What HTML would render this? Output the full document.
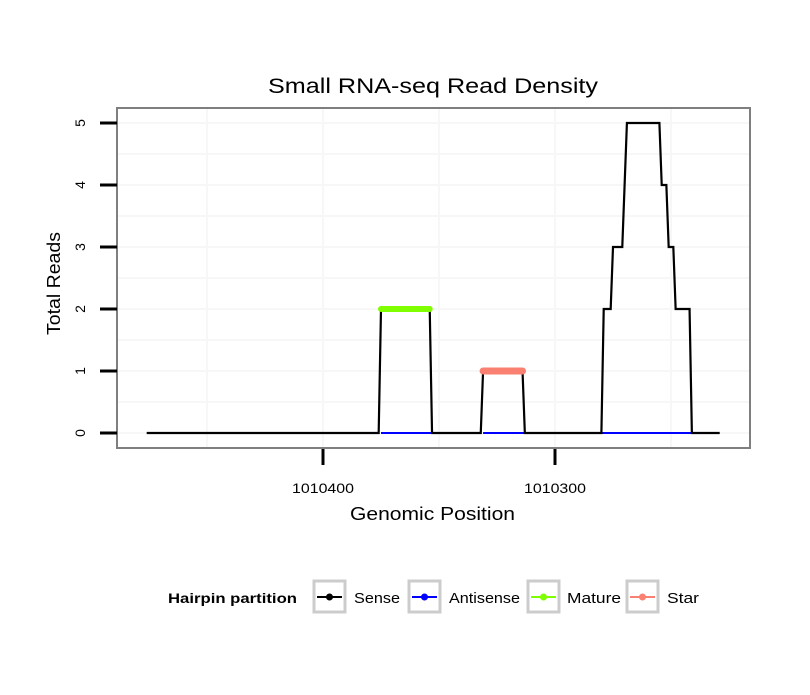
<!DOCTYPE html>
<html><head><meta charset="utf-8"><style>
body{margin:0;background:#fff;}
text{font-family:"Liberation Sans",Arial,sans-serif;}
</style></head><body>
<svg id="chart" width="810" height="690" xmlns="http://www.w3.org/2000/svg">
<rect width="810" height="690" fill="#fff"/>
<text x="268" y="93" font-size="21" textLength="330" lengthAdjust="spacingAndGlyphs">Small RNA-seq Read Density</text>
<g id="grid"></g>
<g id="series"></g>
<rect x="117" y="108" width="633" height="340" fill="none" stroke="#7f7f7f" stroke-width="2"/>
<g id="axes"></g>
<text x="350" y="520" font-size="18" textLength="165" lengthAdjust="spacingAndGlyphs">Genomic Position</text>
<text transform="translate(60,335) rotate(-90)" font-size="18" textLength="103" lengthAdjust="spacingAndGlyphs">Total Reads</text>
<g>
<text x="168" y="603" font-size="14" font-weight="bold" textLength="129" lengthAdjust="spacingAndGlyphs">Hairpin partition</text>
<g><rect x="314" y="581" width="31" height="31" fill="#fff" stroke="#cccccc" stroke-width="3"/><line x1="317" y1="597" x2="342" y2="597" stroke="#000" stroke-width="2"/><circle cx="329.5" cy="597" r="3.5" fill="#000"/><text x="354" y="603" font-size="15" textLength="46" lengthAdjust="spacingAndGlyphs">Sense</text></g>
<g><rect x="409" y="581" width="31" height="31" fill="#fff" stroke="#cccccc" stroke-width="3"/><line x1="412" y1="597" x2="437" y2="597" stroke="#0000ff" stroke-width="2"/><circle cx="424.5" cy="597" r="3.5" fill="#0000ff"/><text x="434" y="603" font-size="15" dx="15" textLength="71" lengthAdjust="spacingAndGlyphs">Antisense</text></g>
<g><rect x="528" y="581" width="31" height="31" fill="#fff" stroke="#cccccc" stroke-width="3"/><line x1="531" y1="597" x2="556" y2="597" stroke="#7fff00" stroke-width="2"/><circle cx="543.5" cy="597" r="3.5" fill="#7fff00"/><text x="567" y="603" font-size="15" textLength="54" lengthAdjust="spacingAndGlyphs">Mature</text></g>
<g><rect x="627" y="581" width="31" height="31" fill="#fff" stroke="#cccccc" stroke-width="3"/><line x1="630" y1="597" x2="655" y2="597" stroke="#fa8072" stroke-width="2"/><circle cx="642.5" cy="597" r="3.5" fill="#fa8072"/><text x="667" y="603" font-size="15" textLength="32" lengthAdjust="spacingAndGlyphs">Star</text></g>
</g>
</svg>
<script>
const sensePos = [1010476,1010376,1010375,1010354,1010353,1010332,1010331,1010314,1010313,1010280,1010279,1010276,1010275,1010271,1010269,1010255,1010254,1010252,1010251,1010249,1010248,1010242,1010241,1010229];
const senseVal = [0,0,2,2,0,0,1,1,0,0,2,2,3,3,5,5,4,4,3,3,2,2,0,0];
const matureRange = [1010375,1010354];
const matureVal = 2;
const starRange = [1010331,1010314];
const starVal = 1;
const antisenseRanges = [[1010375,1010353],[1010331,1010313],[1010280,1010241]];
const yTicks = [0,1,2,3,4,5];
const xTicks = [1010400,1010300];
const xGrid = [1010450,1010400,1010350,1010300,1010250];

const NS='http://www.w3.org/2000/svg';
function X(p){return 323+(1010400-p)*2.32;}
function Y(v){return 433-v*62;}
function mk(tag,attrs,parent){const e=document.createElementNS(NS,tag);for(const k in attrs)e.setAttribute(k,attrs[k]);parent.appendChild(e);return e;}
const grid=document.getElementById('grid'),series=document.getElementById('series'),axes=document.getElementById('axes');
xGrid.forEach(p=>{const l=mk('line',{x1:X(p),x2:X(p),y1:109,y2:447,stroke:'#f7f7f7','stroke-width':2},grid);

});
for(let v=-0.5;v<=5.5;v+=0.5){const y=Y(v);if(y<109||y>447)continue;const l=mk('line',{x1:118,x2:749,y1:y,y2:y,stroke:'#f7f7f7','stroke-width':2},grid);

}
antisenseRanges.forEach(r=>{const l=mk('line',{x1:X(r[0]),x2:X(r[1]),y1:Y(0),y2:Y(0),stroke:'#0000ff','stroke-width':2},series);

});
const pts=sensePos.map((p,i)=>X(p)+','+Y(senseVal[i])).join(' ');
const sl=mk('polyline',{points:pts,fill:'none',stroke:'#000','stroke-width':2.2,'stroke-linejoin':'miter'},series);


const ml=mk('line',{x1:X(matureRange[0]),x2:X(matureRange[1]),y1:Y(matureVal),y2:Y(matureVal),stroke:'#7fff00','stroke-width':6,'stroke-linecap':'round'},series);


const st=mk('line',{x1:X(starRange[0]),x2:X(starRange[1]),y1:Y(starVal),y2:Y(starVal),stroke:'#fa8072','stroke-width':7,'stroke-linecap':'round'},series);


yTicks.forEach(v=>{const y=Y(v);
const t=mk('line',{x1:100,x2:117,y1:y,y2:y,stroke:'#000','stroke-width':3},axes);


const tx=mk('text',{transform:'translate(85,'+y+') rotate(-90)','font-size':14,'text-anchor':'middle'},axes);tx.textContent=v;

});
xTicks.forEach(p=>{const x=X(p);
const t=mk('line',{x1:x,x2:x,y1:449,y2:465,stroke:'#000','stroke-width':3},axes);


const tx=mk('text',{x:x-31,y:493,'font-size':14,textLength:62,lengthAdjust:'spacingAndGlyphs'},axes);tx.textContent=p;

});
</script>
</body></html>
